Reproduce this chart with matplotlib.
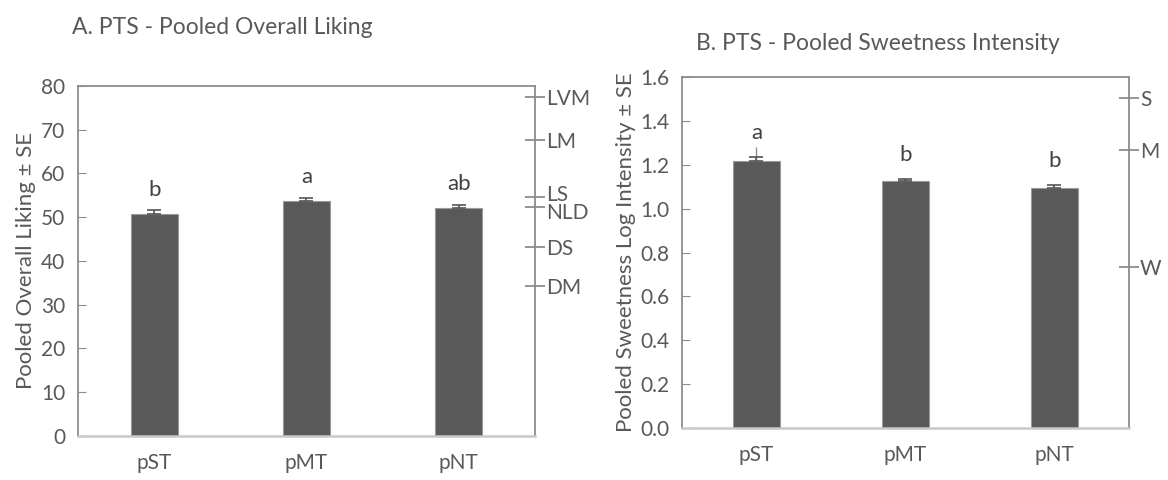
import matplotlib.pyplot as plt
from matplotlib.transforms import ScaledTranslation

plt.rcParams['font.family'] = ['Lato', 'DejaVu Sans']

cats = ['pST', 'pMT', 'pNT']

# A. overall liking
liking = [50.7, 53.8, 52.0]
liking_se = [0.9, 0.7, 0.9]
liking_letters = ['b', 'a', 'ab']
lam_pos = [77.5, 67.7, 54.6, 52.3, 43.2, 34.3]
lam_labels = ['LVM', 'LM', 'LS', 'NLD', 'DS', 'DM']

# B. sweetness intensity (log)
sweet = [1.216, 1.124, 1.093]
sweet_se = [0.02, 0.01, 0.014]
sweet_whisker = [0.065, 0.0, 0.0]
sweet_letters = ['a', 'b', 'b']
glms_pos = [1.503, 1.267, 0.733]
glms_labels = ['S', 'M', 'W']

BAR = '#595959'
AX = '#8c8c8c'
TXT = '#595959'
FS = 15

fig = plt.figure(figsize=(11.68, 4.8), dpi=100)
axA = fig.add_axes([0.0668, 0.0917, 0.3912, 0.7292])
axB = fig.add_axes([0.5839, 0.1083, 0.3827, 0.7313])


def style(ax, ylim, yticks, fmt, pad_text):
    ax.set_xlim(-0.5, 2.5)
    ax.set_ylim(*ylim)
    ax.set_yticks(yticks)
    ax.set_yticklabels([fmt.format(v) for v in yticks])
    ax.tick_params(axis='y', direction='in', length=6, color=AX, labelcolor=TXT,
                   labelsize=FS, pad=pad_text)
    ax.tick_params(axis='x', length=0, labelcolor=TXT, labelsize=FS, pad=12)
    for s in ['left', 'top', 'right']:
        ax.spines[s].set_color(AX)
        ax.spines[s].set_linewidth(1.3)
    ax.spines['bottom'].set_color('#c8c8c8')
    ax.spines['bottom'].set_linewidth(1.8)


def right_axis(ax, pos, labels):
    r = ax.twinx()
    r.set_ylim(ax.get_ylim())
    r.set_yticks(pos)
    r.set_yticklabels(labels)
    r.tick_params(axis='y', direction='inout', length=14, width=1.3, color=AX,
                  labelcolor=TXT, labelsize=FS, pad=1)
    for s in r.spines.values():
        s.set_visible(False)
    return r


# panel A
x = range(len(cats))
axA.bar(x, liking, width=0.31, color=BAR, edgecolor='#9a9a9a', linewidth=0.8, zorder=2)
axA.errorbar(x, liking, yerr=[[0] * 3, liking_se], fmt='none', ecolor='#555555',
             elinewidth=1.2, capsize=5, capthick=1.2, zorder=3)
for i, (v, e, t) in enumerate(zip(liking, liking_se, liking_letters)):
    axA.text(i, v + e + 2.3, t, ha='center', va='bottom', fontsize=16, color='#404040')
style(axA, (0, 80), list(range(0, 81, 10)), '{:.0f}', 9)
axA.set_xticks(list(x))
axA.set_xticklabels(cats)
axA.set_ylabel('Pooled Overall Liking ± SE', fontsize=16, color=TXT, labelpad=4)
rA = right_axis(axA, lam_pos, lam_labels)
# LS and NLD sit very close together: nudge them apart a little
rA_labels = rA.get_yticklabels()
for lab, dy in ((rA_labels[2], 3), (rA_labels[3], -3)):
    lab.set_transform(lab.get_transform() + ScaledTranslation(0, dy / 72, fig.dpi_scale_trans))
fig.text(0.062, 0.942, 'A. PTS - Pooled Overall Liking', fontsize=16.5, color=TXT,
         ha='left', va='center')

# panel B
axB.bar(x, sweet, width=0.31, color=BAR, edgecolor='#9a9a9a', linewidth=0.8, zorder=2)
axB.errorbar(x, sweet, yerr=[[0] * 3, sweet_whisker], fmt='none', ecolor='#909090',
             elinewidth=1.0, capsize=0, zorder=3)
axB.errorbar(x, sweet, yerr=[[0] * 3, sweet_se], fmt='none', ecolor='#555555',
             elinewidth=1.2, capsize=5, capthick=1.2, zorder=3)
for i, (v, e, t) in enumerate(zip(sweet, sweet_se, sweet_letters)):
    axB.text(i, v + e + 0.065, t, ha='center', va='bottom', fontsize=16, color='#404040')
style(axB, (0, 1.6), [i * 0.2 for i in range(9)], '{:.1f}', 9)
axB.set_xticks(list(x))
axB.set_xticklabels(cats)
axB.set_ylabel('Pooled Sweetness Log Intensity ± SE', fontsize=16, color=TXT, labelpad=3)
right_axis(axB, glms_pos, glms_labels)
fig.text(0.5955, 0.91, 'B. PTS - Pooled Sweetness Intensity', fontsize=16.5, color=TXT,
         ha='left', va='center')

plt.savefig('out.png', dpi=100, facecolor='white')
